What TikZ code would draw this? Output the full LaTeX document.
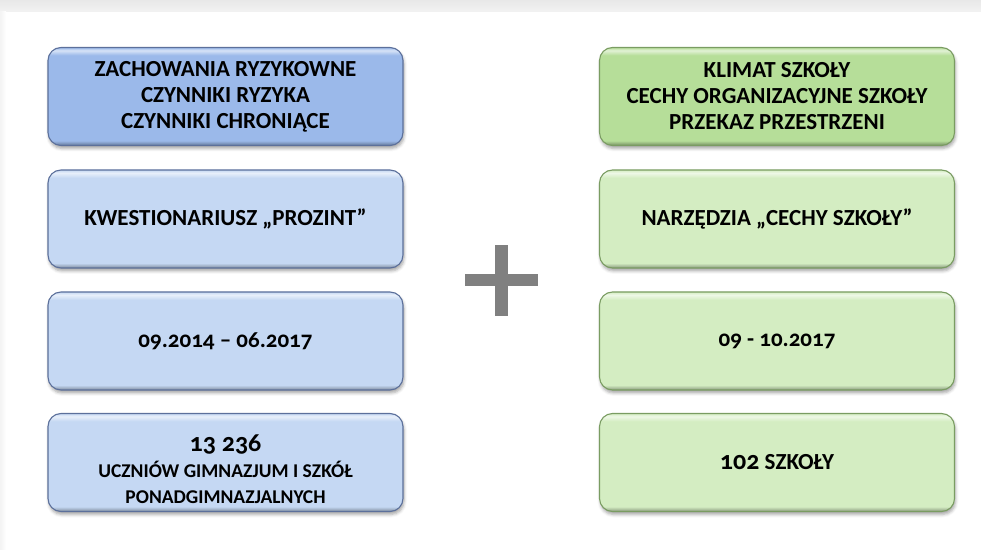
\documentclass[tikz,border=0pt]{standalone}
\usepackage{fontspec}
\setmainfont{Carlito}[Numbers=OldStyle]
\usetikzlibrary{shadows.blur}

\definecolor{blueHead}{RGB}{155,185,234}
\definecolor{blueBox}{RGB}{197,216,243}
\definecolor{blueLine}{RGB}{92,112,155}
\definecolor{greenHead}{RGB}{182,222,153}
\definecolor{greenBox}{RGB}{212,237,194}
\definecolor{greenLine}{RGB}{122,156,98}
\definecolor{plusGray}{RGB}{128,128,128}

\pgfdeclareverticalshading[bvtop,bvmid,bvbot]{bevel}{100bp}{color(0bp)=(bvbot); color(25bp)=(bvbot); color(27.5bp)=(bvmid); color(71bp)=(bvmid); color(73.5bp)=(bvtop); color(75bp)=(bvmid); color(100bp)=(bvmid)}

\tikzset{
  box/.style={rounded corners=13pt, minimum width=355pt, minimum height=98pt, inner sep=0pt,
    align=center, line width=1.1pt, shade, shading=bevel,
    blur shadow={shadow xshift=1pt, shadow yshift=-3pt, shadow blur radius=3pt, shadow opacity=35},
    font=\bfseries\fontsize{23}{26}\selectfont},
  bluehead/.style={box, draw=blueLine,
    /utils/exec={\colorlet{bvmid}{blueHead}\colorlet{bvtop}{blueHead!40!white}\colorlet{bvbot}{blueHead!65!black}}},
  bluebox/.style={box, draw=blueLine,
    /utils/exec={\colorlet{bvmid}{blueBox}\colorlet{bvtop}{blueBox!40!white}\colorlet{bvbot}{blueBox!65!black}}},
  greenhead/.style={box, draw=greenLine,
    /utils/exec={\colorlet{bvmid}{greenHead}\colorlet{bvtop}{greenHead!40!white}\colorlet{bvbot}{greenHead!65!black}}},
  greenbox/.style={box, draw=greenLine,
    /utils/exec={\colorlet{bvmid}{greenBox}\colorlet{bvtop}{greenBox!40!white}\colorlet{bvbot}{greenBox!65!black}}}
}

\begin{document}
\begin{tikzpicture}[x=1pt,y=1pt]
  \useasboundingbox (0,0) rectangle (981,549);
  % page edge
  \shade[top color=gray!18, bottom color=gray!10] (0,549) rectangle (981,537);
  \shade[left color=gray!9, right color=white] (0,0) rectangle (6,537);

  % left column
  \node[bluehead] (risk) at (225.5,452.5) {ZACHOWANIA RYZYKOWNE\\CZYNNIKI RYZYKA\\CZYNNIKI CHRONIĄCE};
  \node[bluebox] (survey) at (225.5,330) {KWESTIONARIUSZ „PROZINT”};
  \node[bluebox] (lperiod) at (225.5,208) {09.2014 – 06.2017};
  \node[bluebox] (pupils) at (225.5,86.5) {{\fontsize{26}{27}\selectfont\rule{0pt}{30pt}13 236}\\
    {\fontsize{19.5}{23}\selectfont UCZNIÓW GIMNAZJUM I SZKÓŁ}\\
    {\fontsize{19.5}{23}\selectfont PONADGIMNAZJALNYCH}};

  % right column
  \node[greenhead] (climate) at (777,452.5) {KLIMAT SZKOŁY\\CECHY ORGANIZACYJNE SZKOŁY\\PRZEKAZ PRZESTRZENI};
  \node[greenbox] (tools) at (777,330) {NARZĘDZIA „CECHY SZKOŁY”};
  \node[greenbox] (rperiod) at (777,208) {09 - 10.2017};
  \node[greenbox] (schools) at (777,86.5) {{\fontsize{26}{27}\selectfont 102} SZKOŁY};

  % plus
  \fill[plusGray] (495,233) rectangle (508,304);
  \fill[plusGray] (465,263) rectangle (538,275);
\end{tikzpicture}
\end{document}
